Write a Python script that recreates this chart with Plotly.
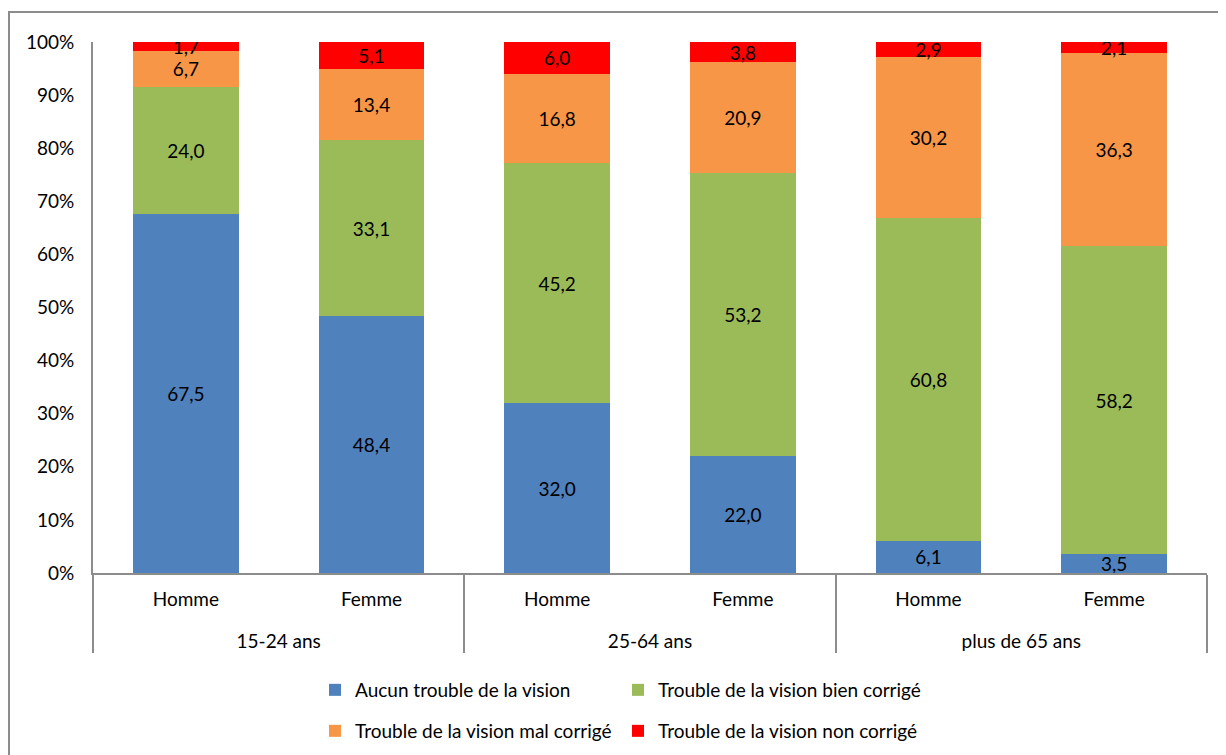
import plotly.graph_objects as go

# ── Data ──
groups = ['15-24 ans', '15-24 ans', '25-64 ans', '25-64 ans', 'plus de 65 ans', 'plus de 65 ans']
sexes = ['Homme', 'Femme', 'Homme', 'Femme', 'Homme', 'Femme']

aucun = [67.5, 48.4, 32.0, 22.0, 6.1, 3.5]
bien_corrige = [24.0, 33.1, 45.2, 53.2, 60.8, 58.2]
mal_corrige = [6.7, 13.4, 16.8, 20.9, 30.2, 36.3]
non_corrige = [1.7, 5.1, 6.0, 3.8, 2.9, 2.1]

series = [
    ('Aucun trouble de la vision', aucun, '#4F81BD', 'legend'),
    ('Trouble de la vision bien corrigé', bien_corrige, '#9BBB59', 'legend'),
    ('Trouble de la vision mal corrigé', mal_corrige, '#F79646', 'legend2'),
    ('Trouble de la vision non corrigé', non_corrige, '#FF0000', 'legend2'),
]

FONT = 'Lato'
FS = 19

fig = go.Figure()
for name, vals, color, leg in series:
    fig.add_trace(go.Bar(
        x=[['<br>' + g for g in groups], sexes],
        y=vals,
        name=name,
        marker=dict(color=color, line=dict(width=0)),
        text=[f'{v:.1f}'.replace('.', ',') for v in vals],
        textposition='inside',
        insidetextanchor='middle',
        textangle=0,
        constraintext='none',
        textfont=dict(family=FONT, size=FS, color='black'),
        legend=leg,
    ))

# the page body adds an 8px offset, so figure coords = screen coords - 8
OFF = 8
W, H = 1226, 755
ml, mt = 93 - OFF, 42 - OFF
pw, ph = 1114, 531
mr = W - ml - pw
mb = H - mt - ph


def px_x(p):  # screen px -> paper x
    return (p - OFF - ml) / pw


def px_y(p):  # screen px -> paper y
    return (mt + ph - (p - OFF)) / ph


legend_style = dict(
    orientation='h', xanchor='left', yanchor='middle',
    xref='container', yref='container',
    font=dict(family=FONT, size=FS, color='black'),
    entrywidth=258, entrywidthmode='pixels',
    itemwidth=30, bgcolor='rgba(0,0,0,0)',
    traceorder='normal',
)

fig.update_layout(
    width=W, height=H,
    margin=dict(l=ml, r=mr, t=mt, b=mb, autoexpand=False),
    barmode='stack',
    barnorm='percent',
    bargap=0.43,
    plot_bgcolor='white',
    paper_bgcolor='white',
    font=dict(family=FONT, size=FS, color='black'),
    showlegend=True,
    legend=dict(x=(315 - OFF) / W, y=1 - (690 - OFF) / H, **legend_style),
    legend2=dict(x=(315 - OFF) / W, y=1 - (731 - OFF) / H, **legend_style),
    xaxis=dict(
        type='multicategory', automargin=False,
        showline=True, linecolor='#8C8C8C', linewidth=2,
        showdividers=True, dividercolor='#8C8C8C', dividerwidth=2,
        ticks='', ticklabelstandoff=8,
        tickfont=dict(family=FONT, size=FS, color='black'),
        showgrid=False,
    ),
    yaxis=dict(
        range=[0, 100], dtick=10, ticksuffix='%', automargin=False,
        showline=True, linecolor='#8C8C8C', linewidth=2,
        showgrid=False, zeroline=False, ticks='',
        ticklabelstandoff=13,
        tickfont=dict(family=FONT, size=FS, color='black'),
    ),
    shapes=[dict(
        type='rect', xref='paper', yref='paper',
        x0=px_x(9), x1=px_x(1260), y0=px_y(12), y1=px_y(800),
        line=dict(color='#8C8C8C', width=2), fillcolor='rgba(0,0,0,0)',
        layer='below',
    )],
)

fig.write_html('out.html')
